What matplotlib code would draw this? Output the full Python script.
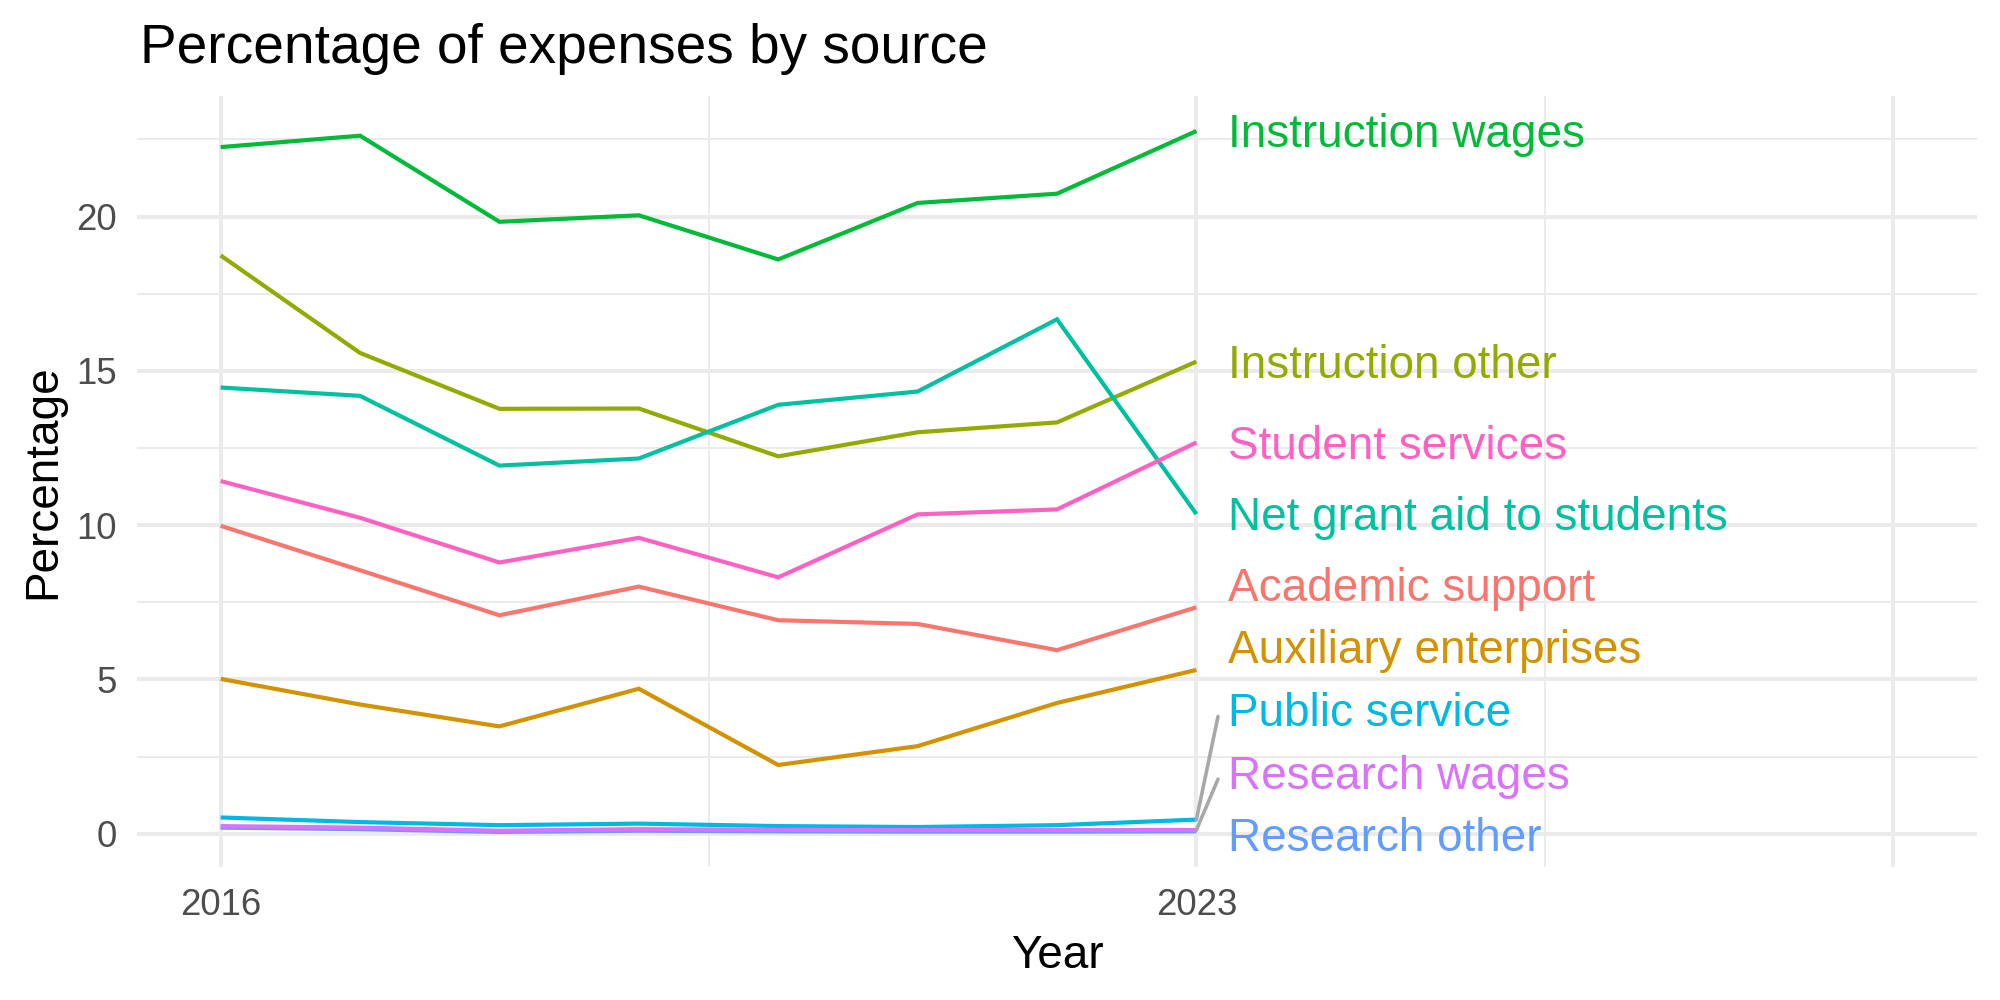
import matplotlib
matplotlib.use("Agg")
import matplotlib.pyplot as plt
import matplotlib.transforms as mtransforms
from matplotlib.ticker import FixedLocator
import numpy as np

plt.rcParams['font.family'] = ['Liberation Sans', 'DejaVu Sans']

# ---------------- data ----------------
years = [2016, 2017, 2018, 2019, 2020, 2021, 2022, 2023]

categories = ["Academic support", "Auxiliary enterprises", "Instruction other",
              "Instruction wages", "Net grant aid to students", "Public service",
              "Research other", "Research wages", "Student services"]

academic_support = [9.98, 8.54, 7.08, 8.01, 6.92, 6.80, 5.95, 7.34]
auxiliary_enterprises = [5.02, 4.19, 3.48, 4.70, 2.23, 2.84, 4.24, 5.31]
instruction_other = [18.74, 15.58, 13.77, 13.78, 12.23, 13.01, 13.33, 15.30]
instruction_wages = [22.25, 22.62, 19.83, 20.04, 18.61, 20.44, 20.74, 22.77]
net_grant_aid = [14.46, 14.19, 11.93, 12.16, 13.90, 14.33, 16.67, 10.36]
public_service = [0.53, 0.38, 0.28, 0.33, 0.25, 0.22, 0.28, 0.46]
research_other = [0.20, 0.15, 0.06, 0.10, 0.08, 0.07, 0.07, 0.08]
research_wages = [0.25, 0.20, 0.10, 0.15, 0.13, 0.12, 0.12, 0.12]
student_services = [11.43, 10.24, 8.79, 9.59, 8.31, 10.35, 10.51, 12.68]

series = [academic_support, auxiliary_enterprises, instruction_other,
          instruction_wages, net_grant_aid, public_service,
          research_other, research_wages, student_services]

colors = ["#F8766D", "#D39200", "#93AA00", "#00BA38", "#00C19F",
          "#00B9E3", "#619CFF", "#DB72FB", "#FF61C3"]

x_breaks = [2016, 2023, 2028]
x_tick_labels = ["2016", "2023", ""]
y_breaks = [0, 5, 10, 15, 20]
y_tick_labels = ["0", "5", "10", "15", "20"]

title = "Percentage of expenses by source"
x_title = "Year"
y_title = "Percentage"

# ---------------- figure ----------------
fig = plt.figure(figsize=(10, 5), dpi=200)
ax = fig.add_axes([0.0685, 0.133, 0.92, 0.771])

for vals, col in zip(series, colors):
    ax.plot(years, vals, color=col, lw=1.5, solid_capstyle='butt',
            solid_joinstyle='miter', zorder=3)

# limits (ggplot style expansion)
xmin, xmax = min(x_breaks), max(x_breaks)
xr = xmax - xmin
ax.set_xlim(xmin - 0.05 * xr, xmax + 0.05 * xr)
allv = np.concatenate([np.array(s) for s in series])
ymin, ymax = allv.min(), allv.max()
yr = ymax - ymin
ax.set_ylim(ymin - 0.05 * yr, ymax + 0.05 * yr)

# grid
ax.xaxis.set_major_locator(FixedLocator(x_breaks))
ax.xaxis.set_minor_locator(FixedLocator([(a + b) / 2 for a, b in zip(x_breaks[:-1], x_breaks[1:])]))
ax.yaxis.set_major_locator(FixedLocator(y_breaks))
ax.yaxis.set_minor_locator(FixedLocator([(a + b) / 2 for a, b in zip(y_breaks, y_breaks[1:] + [y_breaks[-1] + 5])]))
ax.set_xticklabels(x_tick_labels)
ax.set_yticklabels(y_tick_labels)
ax.grid(which='major', color='#EBEBEB', lw=1.42)
ax.grid(which='minor', color='#EBEBEB', lw=0.71)
ax.set_axisbelow(True)
for sp in ax.spines.values():
    sp.set_visible(False)
ax.tick_params(which='both', length=0)
ax.tick_params(axis='x', labelsize=13.2, labelcolor='#4D4D4D', pad=7.6)
ax.tick_params(axis='y', labelsize=13.2, labelcolor='#4D4D4D', pad=7.2)

ax.set_xlabel(x_title, fontsize=16.5, color='black')
ax.set_ylabel(y_title, fontsize=16.5, color='black')
ax.xaxis.set_label_coords(0.5, -0.087)
ax.yaxis.set_label_coords(-0.039, 0.5)

fig.text(0.07, 0.937, title, fontsize=19.8, ha='left', va='baseline')

# ---------------- repelled end labels ----------------
ends = np.array([s[-1] for s in series])
pos = ends.copy()
min_gap = 2.03
floor = -0.04
for _ in range(500):
    order = np.argsort(pos)
    for i in range(len(order) - 1):
        lo, hi = order[i], order[i + 1]
        gap = pos[hi] - pos[lo]
        if gap < min_gap:
            shift = (min_gap - gap) / 2
            pos[lo] -= shift
            pos[hi] += shift
    pos = np.maximum(pos, floor)

label_size = 16.5
cap_off = mtransforms.offset_copy(ax.transData, fig=fig, x=0, y=-0.716 * label_size / 2, units='points')
lab_x = years[-1] + 0.225
for name, col, p, e in zip(categories, colors, pos, ends):
    ax.text(lab_x, p, name, color=col, fontsize=label_size, ha='left',
            va='baseline', transform=cap_off, zorder=5)
    if abs(p - e) > 1.0:
        ax.plot([years[-1], years[-1] + 0.155], [e, p - 0.22], color='#A8A8A8',
                lw=1.3, zorder=4, solid_capstyle='round')

fig.savefig("out.png", dpi=200, facecolor='white')
